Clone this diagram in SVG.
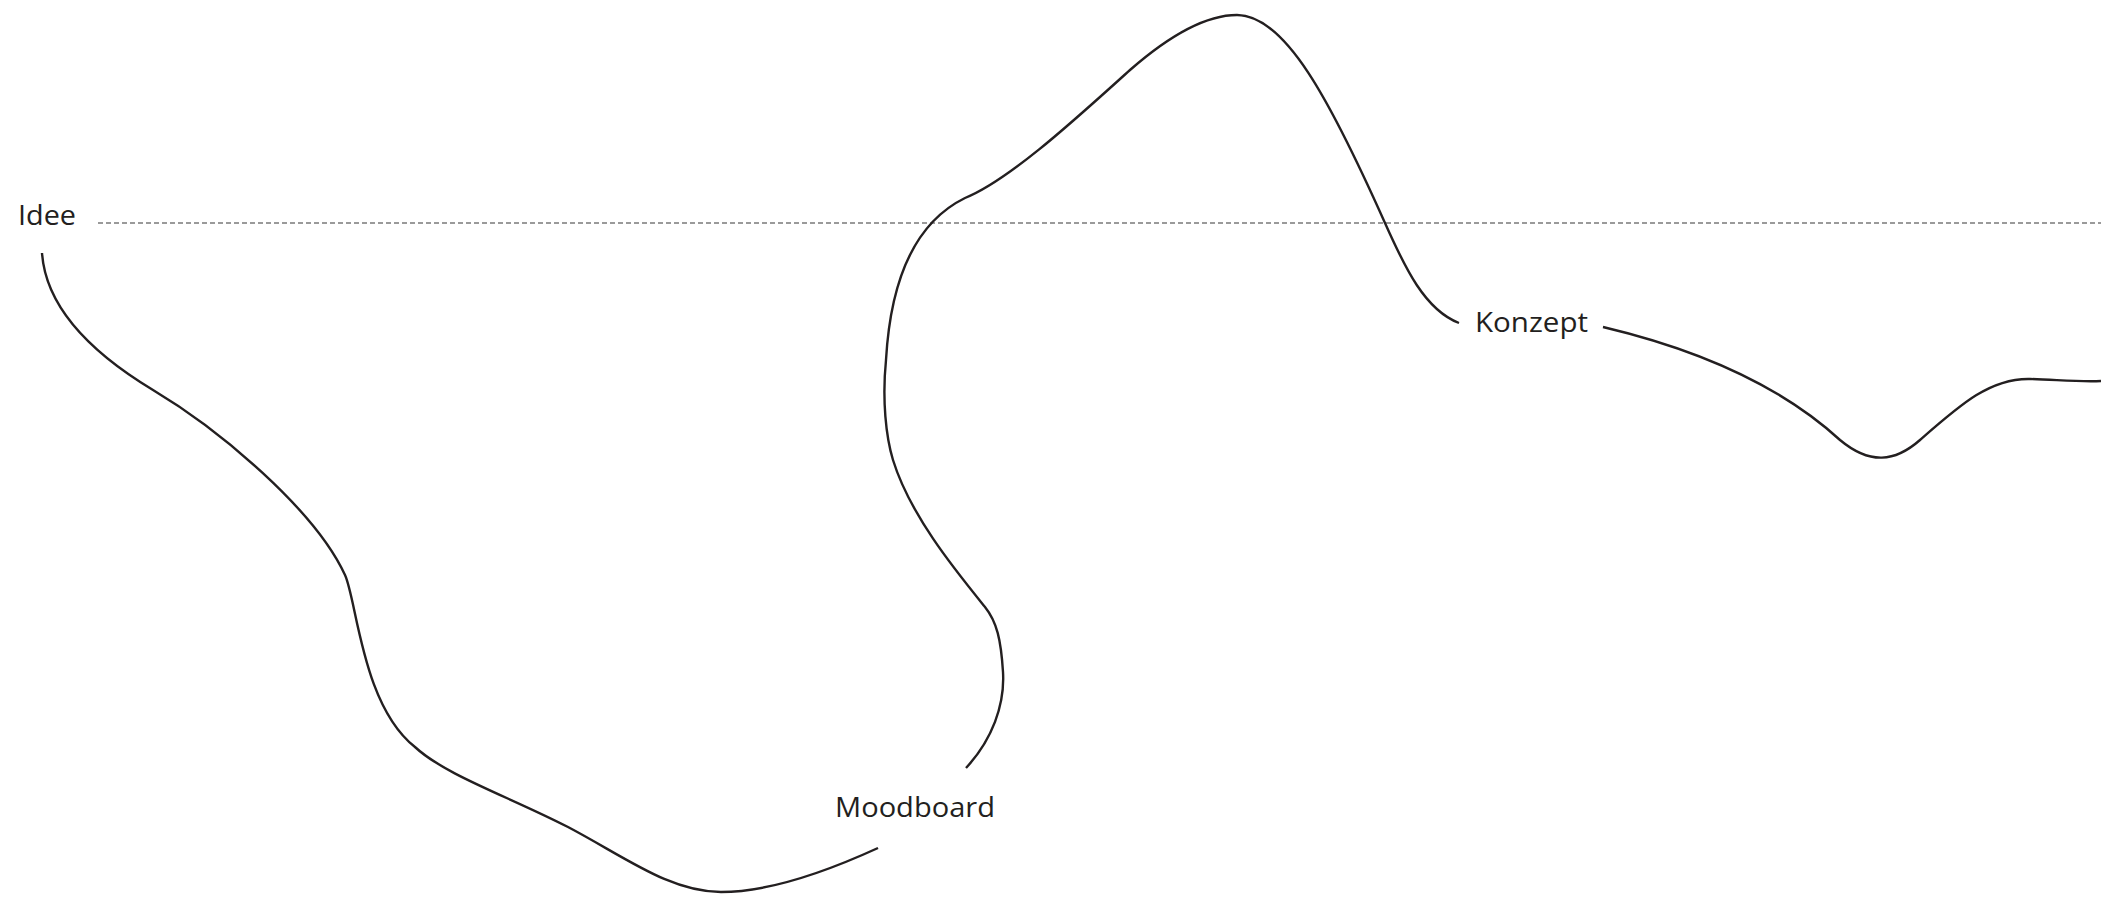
<svg xmlns="http://www.w3.org/2000/svg" width="2101" height="897" viewBox="0 0 2101 897">
<style>
.lbl{font-family:"Open Sans","Liberation Sans",sans-serif;font-size:27px;fill:#231f20}
.curve{fill:none;stroke:#231f20;stroke-width:2.4;stroke-linecap:butt}
.guide{fill:none;stroke:#7a7a7a;stroke-width:1.3;stroke-dasharray:5 3}
</style>
<rect width="2101" height="897" fill="#ffffff"/>
<line class="guide" x1="98" y1="223" x2="2101" y2="223"/>
<g id="idee"><text class="lbl" x="18" y="225" textLength="58" lengthAdjust="spacingAndGlyphs">Idee</text></g>
<g id="moodboard"><text class="lbl" x="835" y="817" textLength="160" lengthAdjust="spacingAndGlyphs">Moodboard</text></g>
<g id="konzept"><text class="lbl" x="1475" y="332" textLength="113" lengthAdjust="spacingAndGlyphs">Konzept</text></g>
<g id="connectors">
<path class="curve" d="M42,253 C46,310 95,355 153,390 C220,430 315,510 345,575 C357,601 362,705 415,747 C445,775 510,797 568,827 C625,857 670,892 721,892 C770,892 830,870 878,848"/>
<path class="curve" d="M966,768 C992,740 1005,705 1003,672 C1001,640 997,622 985,607 C955,570 910,515 893,460 C886,437 882,400 886,360 C890,290 910,225 965,198 C1010,180 1080,115 1130,70 C1170,35 1205,15 1237,15 C1285,15 1330,100 1385,223 C1405,268 1425,310 1459,323"/>
<path class="curve" d="M1603,327 C1700,350 1780,385 1840,440 C1870,465 1895,462 1920,440 C1960,405 1990,378 2030,379 C2060,380 2080,382 2101,381"/>
</g>
</svg>
